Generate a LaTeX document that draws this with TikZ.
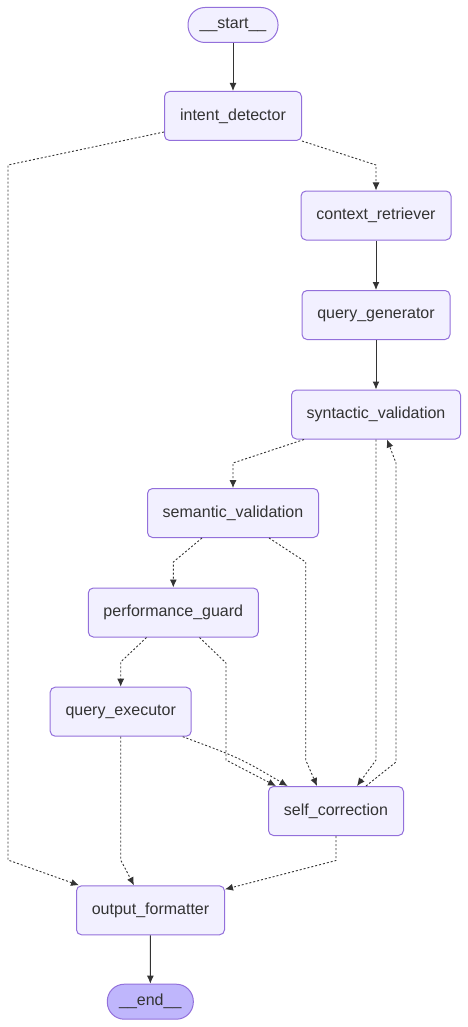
\documentclass[tikz,border=0pt]{standalone}
\usepackage{fontspec}
\setmainfont{Liberation Sans}
\usetikzlibrary{arrows.meta}
\definecolor{boxfill}{HTML}{F2F0FF}
\definecolor{termfill}{HTML}{BFB6FC}
\definecolor{purp}{HTML}{9370DB}
\definecolor{txt}{HTML}{333333}
\definecolor{edgec}{HTML}{333333}
\begin{document}
\begin{tikzpicture}[x=1pt,y=-1pt,
  box/.style={draw=purp, fill=boxfill, rounded corners=5pt, line width=1pt, text=txt,
    minimum height=49pt, inner sep=0pt, font=\fontsize{16}{19}\selectfont},
  term/.style={box, rounded corners=17pt, minimum height=35pt},
  solidedge/.style={draw=edgec, line width=1pt, -{Latex[length=8pt,width=7pt]}},
  dotedge/.style={solidedge, line width=0.9pt, dash pattern=on 2pt off 2pt}]
\useasboundingbox (0,0) rectangle (468,1027);
\node[term, minimum width=90pt] (start) at (233,25) {\_\_start\_\_};
\node[box, minimum width=137pt] (id) at (233,116) {intent\_detector};
\node[box, minimum width=150pt] (cr) at (376,215.5) {context\_retriever};
\node[box, minimum width=148pt] (qg) at (376,315) {query\_generator};
\node[box, minimum width=169pt] (syn) at (376,414.5) {syntactic\_validation};
\node[box, minimum width=171pt] (sem) at (233,513) {semantic\_validation};
\node[box, minimum width=170pt] (pg) at (173.3,612.5) {performance\_guard};
\node[box, minimum width=141pt] (qe) at (120.7,711.7) {query\_executor};
\node[box, minimum width=135pt] (sc) at (336,811) {self\_correction};
\node[box, minimum width=148pt] (of) at (150.5,910.3) {output\_formatter};
\node[term, fill=termfill, minimum width=86pt] (end) at (150.3,1001.7) {\_\_end\_\_};

\draw[solidedge] (start) -- (id);
\draw[solidedge] (cr) -- (qg);
\draw[solidedge] (qg) -- (syn);
\draw[solidedge] (of) -- (end);

\draw[dotedge] (id.south east) -- (376,165) -- (cr.north);
\draw[dotedge] ([yshift=9pt]id.south west) -- (8,165) -- (8,860) -- ([xshift=3pt]of.north west);
\draw[dotedge] ([xshift=13pt]syn.south west) -- (233,463) -- (sem.north);
\draw[dotedge] (syn.south) -- (376,760) -- ([xshift=89pt]sc.north west);
\draw[dotedge] ([xshift=98pt]sc.north west) -- (396,762) -- (396,463) -- ([xshift=11pt]syn.south);
\draw[dotedge] ([xshift=55pt]sem.south west) -- (173.3,562) -- (pg.north);
\draw[dotedge] ([xshift=122pt]sem.south west) -- (305.7,562) -- (305.7,760) -- ([xshift=49pt]sc.north west);
\draw[dotedge] ([xshift=58.7pt]pg.south west) -- (120.7,662) -- (qe.north);
\draw[dotedge] ([xshift=111.7pt]pg.south west) -- (226,663) -- (226,760) -- ([xshift=8pt]sc.north west);
\draw[dotedge] ([xshift=133pt]qe.south west) .. controls (240,758) .. ([xshift=19.6pt]sc.north west);
\draw[dotedge] (qe.south) -- (120.7,860) -- ([xshift=58pt]of.north west);
\draw[dotedge] (sc.south) -- (336,860.5) -- ([yshift=-4pt]of.north east);
\end{tikzpicture}
\end{document}
